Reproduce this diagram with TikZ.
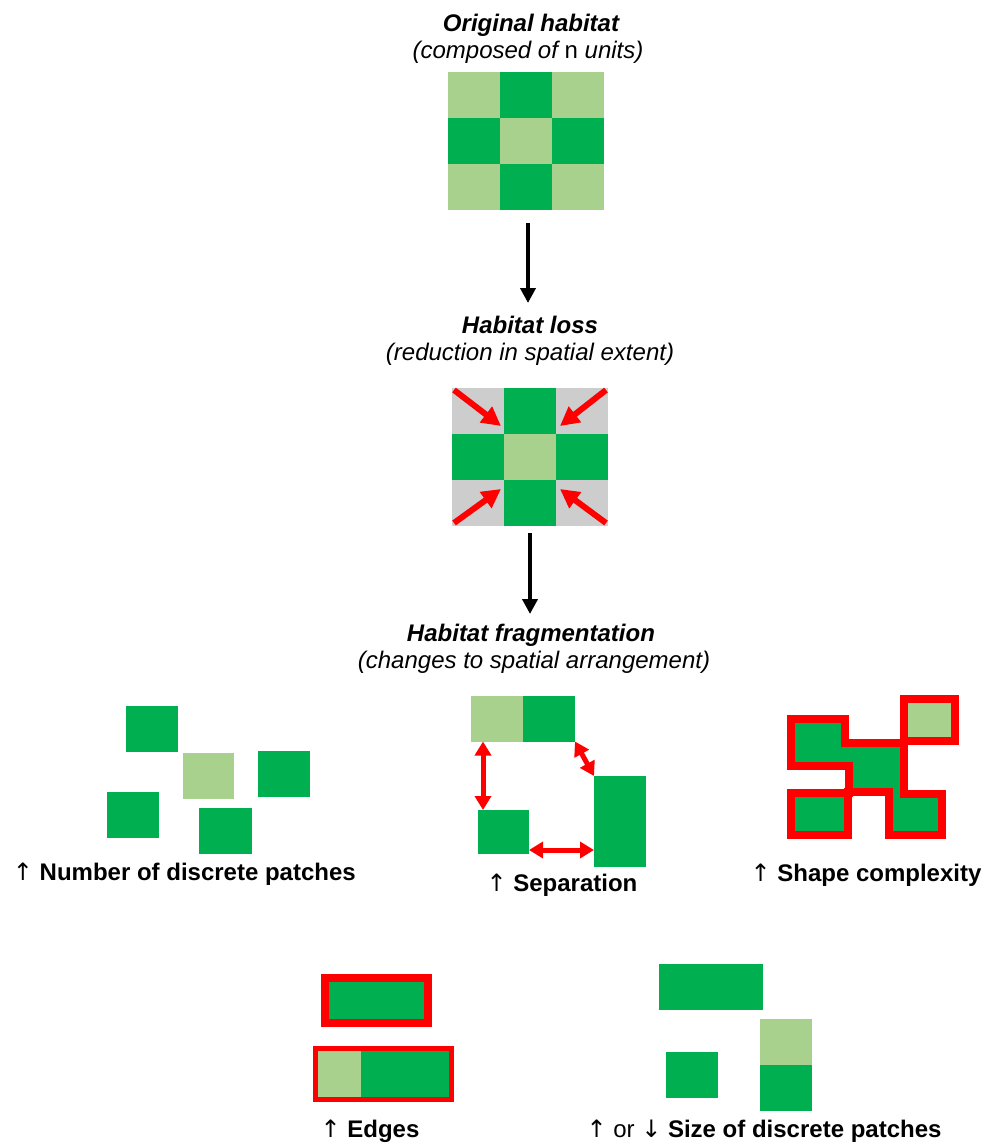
\documentclass[tikz,border=0pt]{standalone}
\usepackage{fontspec}
\setmainfont{Liberation Sans}
\newfontfamily\arrowfont{DejaVu Sans}
\newcommand{\uparr}{{\arrowfont\mdseries ↑}}
\newcommand{\downarr}{{\arrowfont\mdseries ↓}}
\usetikzlibrary{arrows.meta,positioning}
\definecolor{patchdark}{HTML}{00B050}
\definecolor{patchlight}{HTML}{A9D18E}
\definecolor{lostgray}{HTML}{CDCDCD}
\definecolor{edgered}{HTML}{FF0000}

\begin{document}
\begin{tikzpicture}[x=1pt, y=-1pt,
  headtext/.style={anchor=base, inner sep=0pt, font=\fontsize{24}{28}\selectfont\bfseries\itshape},
  subtext/.style={anchor=base, inner sep=0pt, font=\fontsize{24}{28}\selectfont\itshape},
  panelcap/.style={anchor=base, inner sep=0pt, font=\fontsize{24}{28}\selectfont},
  patch/.style={inner sep=0pt, outer sep=0pt, minimum width=52pt, minimum height=46pt},
  darkpatch/.style={patch, fill=patchdark},
  lightpatch/.style={patch, fill=patchlight},
  flowarrow/.style={draw=black, line width=4pt, -{Triangle[length=15pt, width=15pt]}},
  lossarrow/.style={draw=edgered, line width=6pt, -{Triangle[length=19pt, width=19pt]}},
  gaparrow/.style={draw=edgered, line width=5pt, {Triangle[length=14pt, width=16pt]}-{Triangle[length=14pt, width=16pt]}}]
  \useasboundingbox (0,0) rectangle (982,1144);

  % Original habitat
  \node[headtext] (origT) at (531,31) {Original habitat};
  \node[subtext] (origS) at (528,58) {(composed of {\upshape n} units)};
  \foreach \c/\r/\col in {0/0/patchlight, 1/0/patchdark, 2/0/patchlight,
                          0/1/patchdark, 1/1/patchlight, 2/1/patchdark,
                          0/2/patchlight, 1/2/patchdark, 2/2/patchlight}
    \fill[\col] ({448+52*\c},{72+46*\r}) rectangle ++(52,46);

  \coordinate (down1s) at (528,223);
  \coordinate (down1e) at (528,303);
  \draw[flowarrow] (down1s) -- (down1e);

  % Habitat loss
  \node[headtext] (lossT) at (530,333) {Habitat loss};
  \node[subtext] (lossS) at (530,360) {(reduction in spatial extent)};
  \foreach \c/\r/\col in {0/0/lostgray, 1/0/patchdark, 2/0/lostgray,
                          0/1/patchdark, 1/1/patchlight, 2/1/patchdark,
                          0/2/lostgray, 1/2/patchdark, 2/2/lostgray}
    \fill[\col] ({452+52*\c},{388+46*\r}) rectangle ++(52,46);

  \coordinate (lossNW) at (454,390);
  \coordinate (lossNE) at (606,390);
  \coordinate (lossSW) at (454,523);
  \coordinate (lossSE) at (606,523);
  \coordinate (innNW) at (501,426);
  \coordinate (innNE) at (560,426);
  \coordinate (innSW) at (501,489);
  \coordinate (innSE) at (560,489);
  \draw[lossarrow] (lossNW) -- (innNW);
  \draw[lossarrow] (lossNE) -- (innNE);
  \draw[lossarrow] (lossSW) -- (innSW);
  \draw[lossarrow] (lossSE) -- (innSE);

  \coordinate (down2s) at (530,533);
  \coordinate (down2e) at (530,614);
  \draw[flowarrow] (down2s) -- (down2e);

  % Habitat fragmentation
  \node[headtext] (fragT) at (531,641) {Habitat fragmentation};
  \node[subtext] (fragS) at (534,668) {(changes to spatial arrangement)};

  % number of patches
  \node[darkpatch] (numA) at (152,728.5) {};
  \node[lightpatch, minimum width=51pt] (numB) at (208.5,776) {};
  \node[darkpatch] (numC) at (284,773.5) {};
  \node[darkpatch] (numD) at (132.5,814.5) {};
  \node[darkpatch, minimum width=53pt] (numE) at (225.5,831) {};
  \node[panelcap, anchor=base east] (numCap) at (356,880) {\uparr\ \textbf{Number of discrete patches}};

  % separation
  \node[lightpatch] (sepL) at (497,718.5) {};
  \node[darkpatch, right=0pt of sepL] (sepR) {};
  \node[darkpatch, minimum width=51pt, minimum height=44pt] (sepS) at (503.5,832) {};
  \node[darkpatch, minimum height=91pt] (sepT) at (620,821.5) {};
  \draw[gaparrow] ([xshift=12pt]sepL.south west) -- ([xshift=5pt]sepS.north west);
  \coordinate (sepH) at ([yshift=4pt]sepS.south east);
  \draw[gaparrow] (sepH) -- (sepH -| sepT.west);
  \draw[gaparrow] (sepR.south east) -- (sepT.north west);
  \node[panelcap] (sepCap) at (562,891) {\uparr\ \textbf{Separation}};

  % shape complexity
  \draw[edgered, line width=8pt, fill=patchdark]
    (791,719) -- (845,719) -- (845,743) -- (904,743) -- (904,794) -- (942,794)
    -- (942,835) -- (889,835) -- (889,792) -- (848,792) -- (848,835) -- (791,835)
    -- (791,793) -- (849,793) -- (849,766) -- (791,766) -- cycle;
  \node[lightpatch, draw=edgered, line width=8pt, minimum width=51pt, minimum height=42pt] (cplxL) at (929.5,720) {};
  \node[panelcap] (cplxCap) at (866,881) {\uparr\ \textbf{Shape complexity}};

  % edges
  \node[darkpatch, draw=edgered, line width=8pt, minimum width=103pt, minimum height=45pt] (edgeTop) at (376.5,1000.5) {};
  \node[lightpatch, minimum width=43pt] (edgeL) at (339.5,1074) {};
  \node[darkpatch, minimum width=88pt, right=0pt of edgeL] (edgeD) {};
  \draw[edgered, line width=5pt] ([shift={(-2.5pt,2.5pt)}]edgeL.north west) rectangle ([shift={(2.5pt,-2.5pt)}]edgeD.south east);
  \node[panelcap] (edgeCap) at (370,1137) {\uparr\ \textbf{Edges}};

  % size of patches
  \node[darkpatch, minimum width=104pt] (sizeTop) at (711,987) {};
  \node[darkpatch] (sizeL) at (692,1075) {};
  \node[lightpatch] (sizeRL) at (786,1042) {};
  \node[darkpatch, below=0pt of sizeRL] (sizeRD) {};
  \node[panelcap] (sizeCap) at (764,1137) {\uparr\ or \downarr\ \textbf{Size of discrete patches}};
\end{tikzpicture}
\end{document}
